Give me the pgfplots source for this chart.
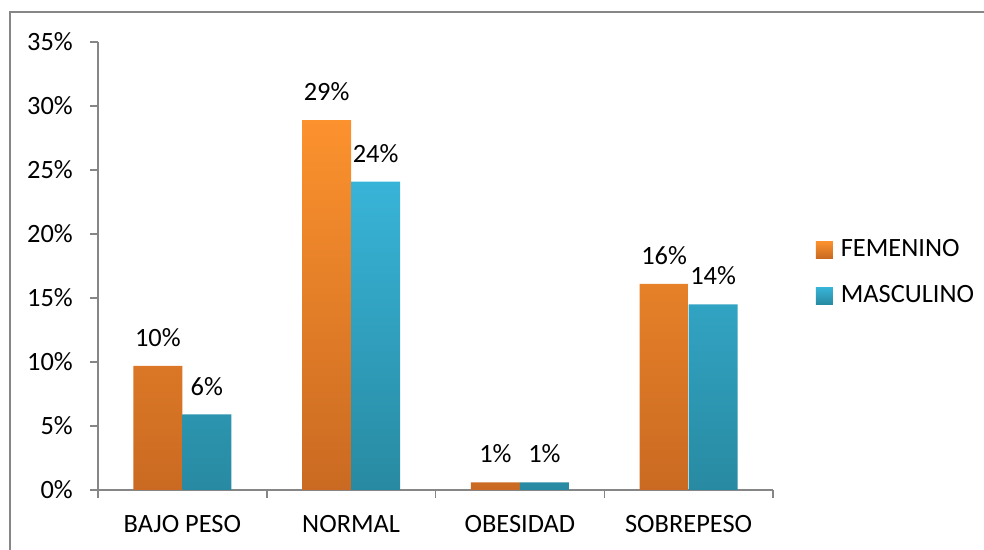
\documentclass[border=0pt]{standalone}
\usepackage{fontspec}
\setmainfont{Carlito}
\usepackage{pgfplots}
\pgfplotsset{compat=1.18}
\definecolor{orT}{RGB}{252,146,46}
\definecolor{orB}{RGB}{202,106,34}
\definecolor{blT}{RGB}{56,180,216}
\definecolor{blB}{RGB}{40,138,162}
\definecolor{axgray}{RGB}{134,134,134}
\newcommand{\cf}{\fontsize{13.2}{15.8}\selectfont}
\begin{document}
\cf
\begin{tikzpicture}
\begin{axis}[
  at={(0,0)}, anchor=south west,
  scale only axis, width=337.5pt, height=224pt,
  xmin=-0.5, xmax=3.5, ymin=0, ymax=35,
  axis x line*=bottom, axis y line*=left,
  axis line style={-, draw=axgray, line width=0.75pt},
  tick align=outside, major tick length=4pt,
  tick style={draw=axgray, line width=0.75pt},
  /pgf/number format/assume math mode=true,
  ytick={0,5,...,35},
  yticklabel={\pgfmathprintnumber{\tick}\%},
  yticklabel style={xshift=-4pt, font=\cf},
  xtick={-0.5,0.5,1.5,2.5,3.5},
  xticklabels={},
  extra x ticks={0,1,2,3},
  extra x tick labels={BAJO PESO,NORMAL,OBESIDAD,SOBREPESO},
  extra x tick style={major tick length=0pt, xticklabel style={yshift=-8pt, font=\cf}},
  ybar=0pt, bar width=24.5pt,
  nodes near coords, point meta=explicit symbolic,
  every node near coord/.append style={font=\cf, yshift=5pt, text=black},
  legend image code/.code={\path[#1] (0pt,-4.25pt) rectangle (8.5pt,4.25pt);},
  legend style={at={(rel axis cs:1.054,0.485)}, anchor=west, draw=none, fill=none,
    font=\cf, row sep=8.5pt,
    /tikz/every odd column/.append style={column sep=2pt}},
  legend cell align=left,
]
\addplot[draw=none, top color=orT, bottom color=orB]
  coordinates {(0,9.7)[10\%] (1,28.9)[29\%] (2,0.6)[1\%] (3,16.1)[16\%]};
\addplot[draw=none, top color=blT, bottom color=blB]
  coordinates {(0,5.9)[6\%] (1,24.1)[24\%] (2,0.6)[1\%] (3,14.5)[14\%]};
\legend{FEMENINO,MASCULINO}
\end{axis}
\draw[axgray, line width=0.9pt] (-44pt,-31pt) -- (-44pt,239pt) -- (444pt,239pt);
\pgfresetboundingbox
\useasboundingbox (-49pt,-30pt) rectangle (443pt,245pt);
\end{tikzpicture}
\end{document}
